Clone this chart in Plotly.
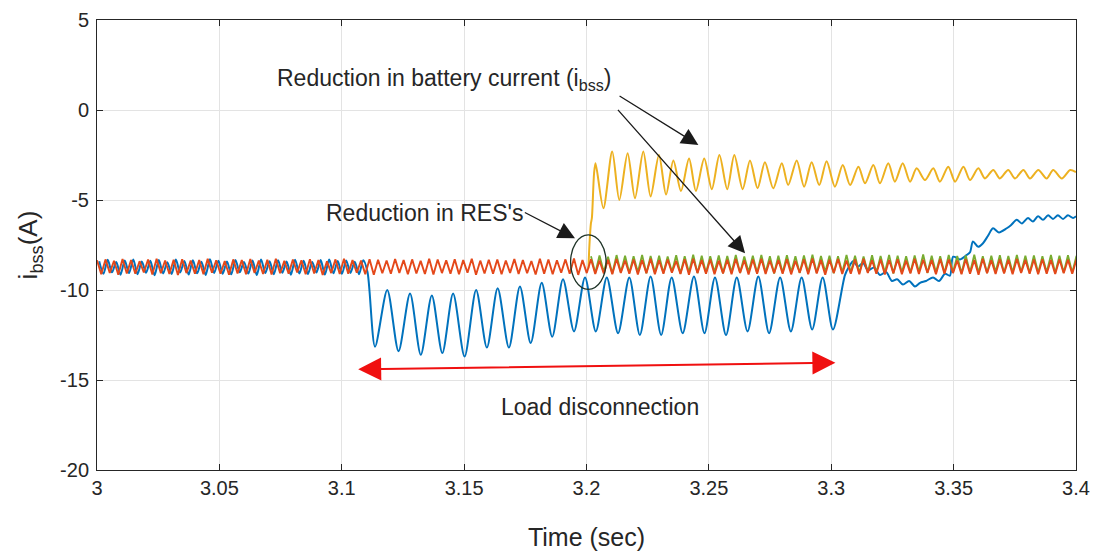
import numpy as np
import plotly.graph_objects as go

# ---------------- data ----------------
# red (orange) trace: alternating crest / valley values, sampled every half period
RED_T0 = 3.0
RED_HALF_PERIOD = 0.00174
RED_HI = [-8.35,-8.30,-8.38,-8.28,-8.33,-8.40,-8.31,-8.27,-8.36,-8.32,
          -8.29,-8.37,-8.33,-8.26,-8.35,-8.39,-8.30,-8.34,-8.28,-8.36,
          -8.32,-8.27,-8.38,-8.31,-8.35,-8.29,-8.33,-8.40,-8.30,-8.26,
          -8.34,-8.37,-8.29,-8.32,-8.36,-8.28,-8.33,-8.30,-8.38,-8.27,
          -8.31,-8.35,-8.29,-8.34,-8.26,-8.37,-8.32,-8.30,-8.36,-8.28,
          -8.33,-8.39,-8.27,-8.31,-8.35,-8.30,-8.25,-8.34,-8.29,-8.37,
          -8.32,-8.28,-8.36,-8.30,-8.33,-8.27,-8.35,-8.31,-8.38,-8.29,
          -8.26,-8.34,-8.30,-8.37,-8.32,-8.28,-8.35,-8.31,-8.27,-8.36,
          -8.33,-8.29,-8.38,-8.30,-8.25,-8.34,-8.32,-8.28,-8.36,-8.31,
          -8.27,-8.35,-8.30,-8.33,-8.29,-8.37,-8.26,-8.32,-8.34,-8.28,
          -8.31,-8.36,-8.29,-8.33,-8.27,-8.35,-8.30,-8.32,-8.28,-8.34,
          -8.31,-8.29,-8.33,-8.30,-8.32,-8.30]
RED_LO = [-9.12,-9.05,-9.15,-9.08,-9.10,-9.03,-9.14,-9.07,-9.11,-9.16,
          -9.06,-9.09,-9.13,-9.04,-9.10,-9.15,-9.08,-9.12,-9.05,-9.11,
          -9.14,-9.07,-9.10,-9.03,-9.13,-9.08,-9.16,-9.06,-9.11,-9.09,
          -9.04,-9.12,-9.15,-9.07,-9.10,-9.05,-9.13,-9.08,-9.11,-9.14,
          -9.06,-9.09,-9.12,-9.04,-9.15,-9.08,-9.10,-9.13,-9.05,-9.11,
          -9.07,-9.14,-9.09,-9.12,-9.04,-9.10,-9.16,-9.06,-9.11,-9.08,
          -9.13,-9.05,-9.10,-9.14,-9.07,-9.12,-9.09,-9.04,-9.11,-9.15,
          -9.06,-9.10,-9.13,-9.08,-9.12,-9.05,-9.14,-9.09,-9.11,-9.07,
          -9.10,-9.13,-9.04,-9.12,-9.08,-9.15,-9.06,-9.11,-9.09,-9.13,
          -9.05,-9.10,-9.14,-9.07,-9.12,-9.08,-9.11,-9.04,-9.13,-9.09,
          -9.06,-9.12,-9.10,-9.15,-9.07,-9.11,-9.08,-9.13,-9.05,-9.10,
          -9.12,-9.09,-9.11,-9.07,-9.10]

# green trace (visible after 3.2 s above the red one)
GREEN_T0 = 3.20184
GREEN_HI = [-8.12,-8.08,-8.15,-8.06,-8.10,-8.13,-8.05,-8.11,-8.09,-8.14,
            -8.07,-8.12,-8.04,-8.10,-8.13,-8.08,-8.11,-8.06,-8.14,-8.09,
            -8.05,-8.12,-8.10,-8.07,-8.13,-8.08,-8.04,-8.11,-8.09,-8.12,
            -8.06,-8.10,-8.14,-8.07,-8.11,-8.05,-8.09,-8.12,-8.08,-8.03,
            -8.10,-8.13,-8.06,-8.11,-8.08,-8.04,-8.12,-8.09,-8.07,-8.11,
            -8.05,-8.10,-8.08,-8.12,-8.06,-8.09,-8.07,-8.10]
GREEN_LO = [-9.05,-9.00,-9.08,-9.02,-9.06,-9.01,-9.07,-9.03,-9.05,-9.00,
            -9.08,-9.02,-9.06,-9.04,-9.01,-9.07,-9.03,-9.05,-9.00,-9.06,
            -9.02,-9.08,-9.04,-9.01,-9.06,-9.03,-9.05,-9.00,-9.07,-9.02,
            -9.04,-9.06,-9.01,-9.05,-9.03,-9.08,-9.02,-9.04,-9.00,-9.06,
            -9.03,-9.05,-9.01,-9.07,-9.02,-9.04,-9.06,-9.00,-9.05,-9.03,
            -9.02,-9.06,-9.04,-9.01,-9.05,-9.03,-9.04]

# blue trace, part A: before the load disconnection
BLUE_A_T0 = 3.0009
BLUE_A_HI = [-8.40,-8.32,-8.45,-8.36,-8.30,-8.42,-8.38,-8.34,-8.46,-8.31,
             -8.39,-8.35,-8.43,-8.29,-8.37,-8.41,-8.33,-8.44,-8.36,-8.30,
             -8.40,-8.35,-8.42,-8.32,-8.38,-8.45,-8.34,-8.31,-8.39,-8.36,
             -8.43,-8.35]
BLUE_A_LO = [-9.10,-9.02,-9.15,-9.06,-9.12,-9.04,-9.18,-9.08,-9.11,-9.03,
             -9.14,-9.07,-9.16,-9.05,-9.10,-9.13,-9.02,-9.09,-9.17,-9.06,
             -9.12,-9.04,-9.15,-9.08,-9.11,-9.03,-9.14,-9.07,-9.10,-9.05,
             -9.12,-9.00]
# blue trace, part B: during the load disconnection (crests and valleys)
BLUE_PEAK_T = [3.1186,3.1279,3.1368,3.1455,3.1549,3.1637,3.1728,3.1817,3.1904,3.1994,
               3.2083,3.2175,3.2262,3.2348,3.2439,3.2525,3.2614,3.2702,3.2791,3.2879,3.2965]
BLUE_PEAK_Y = [-10.0,-10.2,-10.3,-10.2,-10.0,-9.9,-9.8,-9.6,-9.4,-9.3,
               -9.3,-9.3,-9.25,-9.3,-9.25,-9.3,-9.3,-9.25,-9.3,-9.3,-9.3]
BLUE_TROUGH_T = [3.1136,3.1232,3.1323,3.1411,3.1502,3.1593,3.1683,3.1772,3.1860,3.1949,
                 3.2038,3.2129,3.2218,3.2305,3.2393,3.2482,3.2570,3.2658,3.2746,3.2835,
                 3.2922,3.3007]
BLUE_TROUGH_Y = [-13.15,-13.4,-13.6,-13.5,-13.7,-13.2,-13.2,-12.95,-12.6,-12.3,
                 -12.3,-12.4,-12.5,-12.5,-12.4,-12.4,-12.5,-12.3,-12.4,-12.3,
                 -12.2,-12.2]
# blue trace, part C: after reconnection
BLUE_C_T = [3.3056,3.3073,3.3089,3.3109,3.3130,3.3150,3.3175,3.3199,3.3224,3.3248,
            3.3269,3.3293,3.3318,3.3342,3.3363,3.3387,3.3416,3.3440,3.3465,3.3485,
            3.3498,3.3526,3.3553,3.3567,3.3579,3.3600,3.3620,3.3640,3.3661,3.3685,
            3.3717,3.3734,3.3758,3.3779,3.3804,3.3824,3.3845,3.3865,3.3886,3.3906,
            3.3926,3.3947,3.3967,3.3988,3.4000]
BLUE_C_Y = [-9.17,-8.7,-8.4,-8.7,-8.5,-8.9,-8.75,-9.17,-9.0,-9.5,
            -9.4,-9.7,-9.5,-9.8,-9.6,-9.5,-9.3,-9.5,-9.1,-9.2,
            -8.15,-8.3,-8.06,-7.9,-7.3,-7.6,-7.4,-7.0,-6.57,-6.8,
            -6.57,-6.4,-6.1,-6.3,-6.0,-6.2,-5.9,-6.1,-5.85,-6.05,
            -5.85,-6.05,-5.85,-6.0,-5.9]

# yellow trace (battery current after the step at 3.2 s)
YEL_T = [3.2008,3.2012,3.2018,3.2022,3.2031,3.2037,3.2069,3.2105,3.2134,3.2168,
         3.2198,3.2232,3.2262,3.2296,3.2325,3.2355,3.2386,3.2419,3.2447,3.2481,
         3.2512,3.2543,3.2575,3.2604,3.2638,3.2668,3.2699,3.2729,3.2763,3.2798,
         3.2824,3.2859,3.2889,3.2920,3.2951,3.2981,3.3015,3.3047,3.3077,3.3111,
         3.3138,3.3172,3.3199,3.3233,3.3260,3.3292,3.3322,3.3349,3.3383,3.3417,
         3.3444,3.3478,3.3506,3.3540,3.3567,3.3601,3.3628,3.3662,3.3689,3.3723,
         3.3751,3.3785,3.3812,3.3846,3.3880,3.3907,3.3942,3.3976,3.4000]
YEL_Y = [-8.8,-7.5,-6.3,-6.0,-3.5,-2.96,-5.46,-2.3,-5.0,-2.4,
         -4.9,-2.3,-4.8,-2.5,-4.7,-2.8,-4.5,-2.7,-4.5,-2.7,
         -4.4,-2.5,-4.4,-2.5,-4.4,-2.8,-4.35,-2.9,-4.35,-2.96,
         -4.17,-2.8,-4.26,-2.9,-4.17,-2.85,-4.26,-3.06,-4.17,-3.15,
         -4.07,-3.06,-4.07,-2.96,-3.98,-2.96,-3.98,-3.24,-3.89,-3.24,
         -3.98,-3.15,-3.98,-3.15,-3.89,-3.24,-3.8,-3.33,-3.8,-3.33,
         -3.8,-3.33,-3.8,-3.33,-3.8,-3.33,-3.8,-3.33,-3.45]

X_TICKS = [3.0, 3.05, 3.1, 3.15, 3.2, 3.25, 3.3, 3.35, 3.4]
X_TICK_LABELS = ["3", "3.05", "3.1", "3.15", "3.2", "3.25", "3.3", "3.35", "3.4"]
Y_TICKS = [5, 0, -5, -10, -15, -20]
Y_TICK_LABELS = ["5", "0", "-5", "-10", "-15", "-20"]

# ---------------- build series ----------------
def interleave(hi, lo):
    out = []
    for i in range(max(len(hi), len(lo))):
        if i < len(hi):
            out.append(hi[i])
        if i < len(lo):
            out.append(lo[i])
    return out

red_y = interleave(RED_HI, RED_LO)
red_t = [RED_T0 + i * RED_HALF_PERIOD for i in range(len(red_y))]
green_y = interleave(GREEN_HI, GREEN_LO)
green_t = [GREEN_T0 + i * RED_HALF_PERIOD for i in range(len(green_y))]
blue_a_y = interleave(BLUE_A_HI, BLUE_A_LO)
blue_a_t = [BLUE_A_T0 + i * RED_HALF_PERIOD for i in range(len(blue_a_y))]
blue_b = sorted(list(zip(BLUE_PEAK_T, BLUE_PEAK_Y)) + list(zip(BLUE_TROUGH_T, BLUE_TROUGH_Y)))
blue_t = blue_a_t + [p[0] for p in blue_b] + BLUE_C_T
blue_y = blue_a_y + [p[1] for p in blue_b] + BLUE_C_Y

BLUE = "#0072BD"
RED = "#E4481A"
YEL = "#EDB120"
GRN = "#77AC30"
FONT = "Liberation Sans, Arial, sans-serif"
TXT = "#262626"

fig = go.Figure()
fig.add_trace(go.Scatter(x=blue_t, y=blue_y, mode="lines",
                         line=dict(color=BLUE, width=2, shape="spline", smoothing=0.8, simplify=False)))
fig.add_trace(go.Scatter(x=YEL_T, y=YEL_Y, mode="lines",
                         line=dict(color=YEL, width=2, shape="spline", smoothing=0.8, simplify=False)))
fig.add_trace(go.Scatter(x=green_t, y=green_y, mode="lines",
                         line=dict(color=GRN, width=1.8, simplify=False)))
fig.add_trace(go.Scatter(x=red_t, y=red_y, mode="lines",
                         line=dict(color=RED, width=1.9, simplify=False)))

# ellipse marking RES reduction
fig.add_shape(type="circle", xref="x", yref="y", x0=3.1935, x1=3.2080, y0=-9.96, y1=-6.94,
              line=dict(color="#1e3327", width=1.3))

ARW = "#1a1a1a"
annots = [
    dict(x=3.0727, y=1.67, xanchor="left", yanchor="middle", showarrow=False,
         text="Reduction in battery current (i<sub>bss</sub>)", font=dict(size=23, color=TXT, family=FONT)),
    dict(x=3.2457, y=-1.944, ax=3.2129, ay=0.833, axref="x", ayref="y", text="", showarrow=True,
         arrowhead=2, arrowsize=2.6, arrowwidth=1.3, arrowcolor=ARW),
    dict(x=3.2648, y=-7.96, ax=3.2123, ay=0.094, axref="x", ayref="y", text="", showarrow=True,
         arrowhead=2, arrowsize=2.6, arrowwidth=1.3, arrowcolor=ARW),
    dict(x=3.1340, y=-5.74, xanchor="center", yanchor="middle", showarrow=False,
         text="Reduction in RES's", font=dict(size=23, color=TXT, family=FONT)),
    dict(x=3.1953, y=-7.13, ax=3.1742, ay=-5.65, axref="x", ayref="y", text="", showarrow=True,
         arrowhead=2, arrowsize=2.6, arrowwidth=1.3, arrowcolor=ARW),
    dict(x=3.3017, y=-14.04, ax=3.1061, ay=-14.41, axref="x", ayref="y", text="", showarrow=True,
         arrowhead=2, startarrowhead=2, arrowside="end+start", arrowsize=2.3, startarrowsize=2.3,
         arrowwidth=2, arrowcolor="#F01010"),
    dict(x=3.2055, y=-16.48, xanchor="center", yanchor="middle", showarrow=False,
         text="Load disconnection", font=dict(size=23, color=TXT, family=FONT)),
]
fig.update_layout(annotations=annots)

axis_common = dict(showline=True, linecolor=TXT, linewidth=1, mirror="ticks",
                   ticks="inside", ticklen=6, tickcolor=TXT, showgrid=True,
                   gridcolor="#e3e3e3", gridwidth=1, zeroline=False, automargin=False,
                   tickfont=dict(size=20, color=TXT, family=FONT))
fig.update_xaxes(range=[3.0, 3.4], tickvals=X_TICKS, ticktext=X_TICK_LABELS,
                 title=dict(text="Time (sec)", font=dict(size=25, color=TXT, family=FONT), standoff=30),
                 **axis_common)
fig.update_yaxes(range=[-20, 5], tickvals=Y_TICKS, ticktext=Y_TICK_LABELS, ticklabelstandoff=3,
                 title=dict(text="i<sub>bss</sub>(A)", font=dict(size=26, color=TXT, family=FONT), standoff=14),
                 **axis_common)
fig.update_layout(width=1096, height=557, margin=dict(l=97, r=20, t=20, b=87),
                  paper_bgcolor="white", plot_bgcolor="white", showlegend=False,
                  font=dict(family=FONT, color=TXT))
fig.write_html("out.html")
